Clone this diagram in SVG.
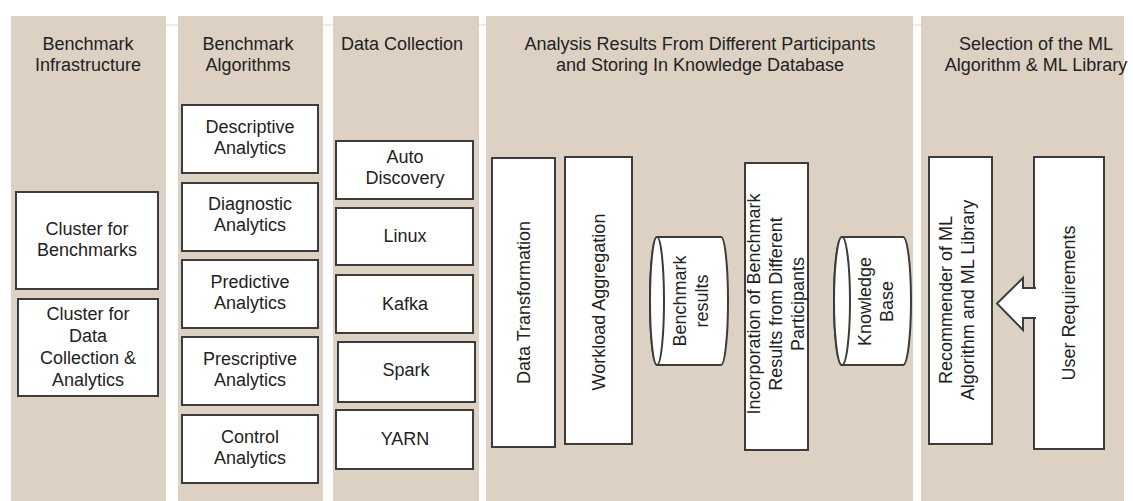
<svg xmlns="http://www.w3.org/2000/svg" width="1133" height="501" viewBox="0 0 1133 501">
<style>
.bg{fill:#dcd1c2}
.box{fill:#ffffff;stroke:#3c3c3c;stroke-width:2}
.t{font-family:"Liberation Sans",Arial,sans-serif;font-size:18px;fill:#222222;text-anchor:middle}
</style>
<rect x="0" y="0" width="1133" height="501" fill="#ffffff"/>
<line x1="11" y1="25" x2="1124" y2="25" stroke="#ececec" stroke-width="2"/>
<g id="columns">
<rect class="bg" x="11" y="16" width="155" height="485"/>
<rect class="bg" x="178" y="16" width="145" height="485"/>
<rect class="bg" x="333" y="16" width="146" height="485"/>
<rect class="bg" x="486" y="16" width="427" height="485"/>
<rect class="bg" x="921" y="16" width="203" height="485"/>
</g>
<g id="headings">
<text class="t" x="88" y="50">Benchmark<tspan x="88" dy="21">Infrastructure</tspan></text>
<text class="t" x="248" y="50">Benchmark<tspan x="248" dy="21">Algorithms</tspan></text>
<text class="t" x="402" y="50">Data Collection</text>
<text class="t" x="700" y="50">Analysis Results From Different Participants<tspan x="700" dy="21">and Storing In Knowledge Database</tspan></text>
<text class="t" x="1036" y="50">Selection of the ML<tspan x="1036" dy="21">Algorithm &amp; ML Library</tspan></text>
</g>
<g id="cluster-benchmarks">
<rect class="box" x="16" y="192" width="142" height="97"/>
<text class="t" x="87" y="235">Cluster for<tspan x="87" dy="21">Benchmarks</tspan></text>
</g>
<g id="cluster-data">
<rect class="box" x="18" y="299" width="140" height="97"/>
<text class="t" x="88" y="320">Cluster for<tspan x="88" dy="22">Data</tspan><tspan x="88" dy="22">Collection &amp;</tspan><tspan x="88" dy="22">Analytics</tspan></text>
</g>
<g id="descriptive">
<rect class="box" x="182" y="105" width="136" height="68"/>
<text class="t" x="250" y="133">Descriptive<tspan x="250" dy="21">Analytics</tspan></text>
</g>
<g id="diagnostic">
<rect class="box" x="182" y="183" width="136" height="68"/>
<text class="t" x="250" y="210">Diagnostic<tspan x="250" dy="21">Analytics</tspan></text>
</g>
<g id="predictive">
<rect class="box" x="182" y="260" width="136" height="68"/>
<text class="t" x="250" y="288">Predictive<tspan x="250" dy="21">Analytics</tspan></text>
</g>
<g id="prescriptive">
<rect class="box" x="182" y="337" width="136" height="68"/>
<text class="t" x="250" y="365">Prescriptive<tspan x="250" dy="21">Analytics</tspan></text>
</g>
<g id="control">
<rect class="box" x="182" y="415" width="136" height="68"/>
<text class="t" x="250" y="443">Control<tspan x="250" dy="21">Analytics</tspan></text>
</g>
<g id="auto-discovery">
<rect class="box" x="336" y="141" width="137" height="58"/>
<text class="t" x="405" y="163">Auto<tspan x="405" dy="21">Discovery</tspan></text>
</g>
<g id="linux">
<rect class="box" x="336" y="208" width="137" height="57"/>
<text class="t" x="405" y="242">Linux</text>
</g>
<g id="kafka">
<rect class="box" x="336" y="275" width="137" height="58"/>
<text class="t" x="405" y="310">Kafka</text>
</g>
<g id="spark">
<rect class="box" x="338" y="342" width="137" height="60"/>
<text class="t" x="406" y="376">Spark</text>
</g>
<g id="yarn">
<rect class="box" x="336" y="410" width="137" height="59"/>
<text class="t" x="405" y="445">YARN</text>
</g>
<g id="data-transformation">
<rect class="box" x="492" y="158" width="63" height="289"/>
<text class="t" transform="translate(530 302.5) rotate(-90)">Data Transformation</text>
</g>
<g id="workload-aggregation">
<rect class="box" x="565" y="157" width="67" height="287"/>
<text class="t" transform="translate(605 302) rotate(-90)">Workload Aggregation</text>
</g>
<g id="benchmark-results">
<path d="M657 237 L721 237 A7 64 0 0 1 721 365 L657 365 A7 64 0 0 1 657 237 Z" fill="#ffffff" stroke="#3c3c3c" stroke-width="2"/>
<ellipse cx="657" cy="301" rx="7" ry="64" fill="#ffffff" stroke="#3c3c3c" stroke-width="2"/>
<text class="t" transform="translate(686 301) rotate(-90)">Benchmark<tspan x="0" dy="22">results</tspan></text>
</g>
<g id="incorporation">
<rect class="box" x="745" y="163" width="63" height="287"/>
<text class="t" transform="translate(760 304) rotate(-90)">Incorporation of Benchmark<tspan x="0" dy="22">Results from Different</tspan><tspan x="0" dy="22">Participants</tspan></text>
</g>
<g id="knowledge-base">
<path d="M842 237 L903 237 A8 64 0 0 1 903 365 L842 365 A8 64 0 0 1 842 237 Z" fill="#ffffff" stroke="#3c3c3c" stroke-width="2"/>
<ellipse cx="842" cy="301" rx="8" ry="64" fill="#ffffff" stroke="#3c3c3c" stroke-width="2"/>
<text class="t" transform="translate(871 301.5) rotate(-90)">Knowledge<tspan x="0" dy="22">Base</tspan></text>
</g>
<g id="recommender">
<rect class="box" x="929" y="157" width="63" height="287"/>
<text class="t" transform="translate(952 300) rotate(-90)">Recommender of ML<tspan x="0" dy="22">Algorithm and ML Library</tspan></text>
</g>
<g id="user-requirements">
<rect class="box" x="1034" y="157" width="70" height="292"/>
<text class="t" transform="translate(1075 303) rotate(-90)">User Requirements</text>
</g>
<g id="connectors">
<path d="M1036 288 L1023 288 L1023 278 L997 303.5 L1023 330 L1023 318 L1036 318" fill="#ffffff" stroke="#3c3c3c" stroke-width="2"/>
</g>
</svg>
